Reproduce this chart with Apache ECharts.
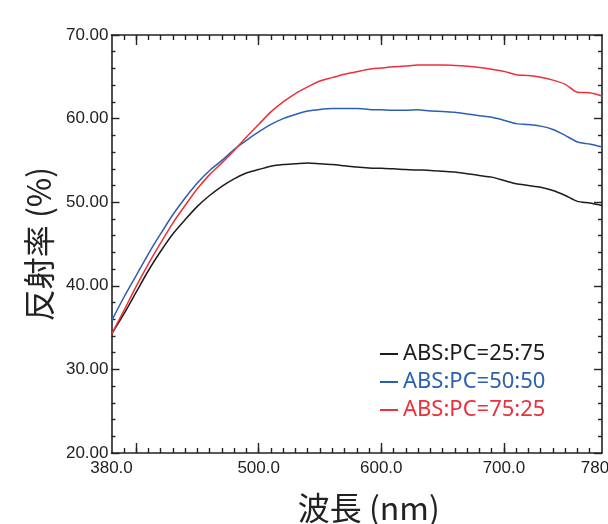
<!DOCTYPE html>
<html>
<head>
<meta charset="utf-8">
<title>反射率スペクトル</title>
<script src="https://cdn.jsdelivr.net/npm/echarts@6/dist/echarts.min.js"></script>
<style>
  html, body { margin: 0; padding: 0; background: #ffffff; }
  #chart { width: 608px; height: 524px; }
</style>
</head>
<body>
<div id="chart"></div>
<script>
// Wavelength grid (nm), 10 nm steps
const wavelengths = [380, 390, 400, 410, 420, 430, 440, 450, 460, 470,
  480, 490, 500, 510, 520, 530, 540, 550, 560, 570,
  580, 590, 600, 610, 620, 630, 640, 650, 660, 670,
  680, 690, 700, 710, 720, 730, 740, 750, 760, 770, 780];

// Reflectance (%) for each blend ratio
const abs25pc75 = [34.2, 36.6, 39.2, 41.8, 44.1, 46.2, 47.9, 49.5, 50.8, 51.9,
  52.8, 53.5, 53.9, 54.3, 54.5, 54.6, 54.7, 54.6, 54.5, 54.35,
  54.2, 54.1, 54.05, 54.0, 53.9, 53.85, 53.8, 53.7, 53.6, 53.4,
  53.2, 53.0, 52.6, 52.2, 52.0, 51.8, 51.4, 50.8, 50.1, 49.9, 49.6];

const abs50pc50 = [35.8, 38.6, 41.2, 43.8, 46.2, 48.5, 50.5, 52.3, 53.8, 55.0,
  56.3, 57.4, 58.4, 59.3, 60.0, 60.5, 60.9, 61.1, 61.2, 61.2,
  61.2, 61.1, 61.05, 61.0, 61.0, 61.05, 60.9, 60.85, 60.75, 60.55,
  60.35, 60.15, 59.8, 59.4, 59.3, 59.1, 58.7, 58.0, 57.2, 56.95, 56.6];

const abs75pc25 = [34.2, 37.0, 39.9, 42.6, 45.1, 47.5, 49.6, 51.6, 53.3, 54.7,
  56.2, 57.8, 59.3, 60.8, 62.0, 63.0, 63.8, 64.5, 64.9, 65.3,
  65.6, 65.9, 66.05, 66.2, 66.3, 66.4, 66.4, 66.4, 66.35, 66.25,
  66.1, 65.9, 65.65, 65.25, 65.15, 64.95, 64.6, 64.1, 63.15, 63.1, 62.7];

const seriesNames = ['ABS:PC=25:75', 'ABS:PC=50:50', 'ABS:PC=75:25'];
const seriesColors = ['#1c1c1c', '#2b5fb4', '#ec2f3b'];

// Axis tick / label positions
const xLabelValues = [380, 500, 600, 700, 780];
const xMajorTicks = [400, 500, 600, 700];
const xMinorTicks = [390, 400, 410, 420, 430, 440, 450, 460, 470, 480, 490, 500,
  510, 520, 530, 540, 550, 560, 570, 580, 590, 600, 610, 620, 630, 640, 650,
  660, 670, 680, 690, 700, 710, 720, 730, 740, 750, 760, 770];

const tickFont = "'Liberation Sans Narrow', 'Liberation Sans', sans-serif";
const nameFont = "'Noto Sans CJK JP', 'Noto Sans', sans-serif";
const axisColor = '#222222';

function pairs(ys) {
  return wavelengths.map((w, i) => [w, ys[i]]);
}

function xAxisDef(position, ticks, len, showLine, showLabel) {
  return {
    type: 'value',
    position: position,
    min: 380,
    max: 780,
    axisLine: { show: showLine, onZero: false, lineStyle: { color: axisColor, width: 1.6 } },
    axisTick: { show: true, inside: true, length: len, customValues: ticks,
      lineStyle: { color: axisColor, width: 1.4 } },
    axisLabel: { show: showLabel, customValues: xLabelValues, margin: 7,
      color: '#222', fontFamily: tickFont, fontSize: 17,
      hideOverlap: false,
      formatter: v => v.toFixed(1) },
    splitLine: { show: false }
  };
}

function yAxisDef(position, showLabel) {
  return {
    type: 'value',
    position: position,
    min: 20,
    max: 70,
    interval: 10,
    axisLine: { show: true, onZero: false, lineStyle: { color: axisColor, width: 1.6 } },
    axisTick: { show: true, inside: true, length: 8, lineStyle: { color: axisColor, width: 1.4 } },
    minorTick: { show: true, splitNumber: 5, length: 4, lineStyle: { color: axisColor, width: 1.4 } },
    axisLabel: { show: showLabel, margin: 3, color: '#222', fontFamily: tickFont, fontSize: 17,
      formatter: v => v.toFixed(2) },
    splitLine: { show: false }
  };
}

const chart = echarts.init(document.getElementById('chart'), null, { renderer: 'canvas' });

const xBottom = xAxisDef('bottom', xMajorTicks, 10, true, true);
xBottom.name = '波長 (nm)';
xBottom.nameLocation = 'middle';
xBottom.nameGap = 39;
xBottom.nameTextStyle = { fontFamily: nameFont, fontSize: 32, color: '#222', padding: [0, 0, 0, 24] };

const yLeft = yAxisDef('left', true);
yLeft.name = '反射率 (%)';
yLeft.nameLocation = 'middle';
yLeft.nameGap = 50;
yLeft.nameTextStyle = { fontFamily: nameFont, fontSize: 32, color: '#222' };

chart.setOption({
  animation: false,
  backgroundColor: '#ffffff',
  grid: { left: 111.5, right: 6, top: 35, bottom: 71, containLabel: false, outerBoundsMode: 'none' },
  legend: {
    orient: 'vertical',
    left: 375,
    top: 338,
    itemGap: 6,
    itemWidth: 18,
    itemHeight: 2,
    icon: 'rect',
    data: seriesNames,
    textStyle: { color: 'inherit', fontFamily: "'Noto Sans', sans-serif", fontSize: 22, lineHeight: 21 }
  },
  xAxis: [
    xBottom,
    xAxisDef('bottom', xMinorTicks, 5, false, false),
    xAxisDef('top', xMajorTicks, 10, true, false),
    xAxisDef('top', xMinorTicks, 5, false, false)
  ],
  yAxis: [
    yLeft,
    yAxisDef('right', false)
  ],
  series: [abs25pc75, abs50pc50, abs75pc25].map((ys, i) => ({
    name: seriesNames[i],
    type: 'line',
    xAxisIndex: 0,
    yAxisIndex: 0,
    data: pairs(ys),
    showSymbol: false,
    smooth: 0.25,
    color: seriesColors[i],
    lineStyle: { color: seriesColors[i], width: 1.5 }
  }))
});
</script>
</body>
</html>
